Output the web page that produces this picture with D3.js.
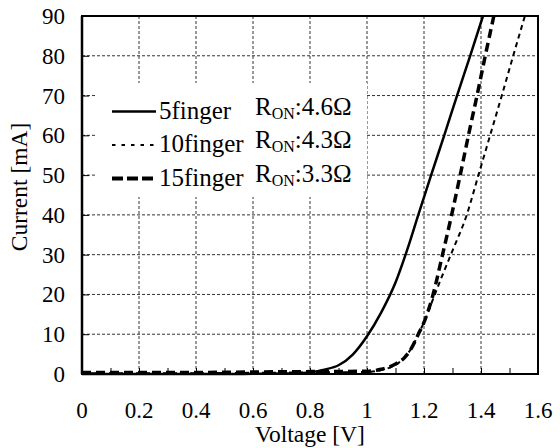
<!DOCTYPE html>
<html>
<head>
<meta charset="utf-8">
<script src="https://d3js.org/d3.v7.min.js"></script>
<style>
  body { margin: 0; background: #fff; }
  text { font-family: "Liberation Serif", "Times New Roman", serif; fill: #000; }
  .grid line { stroke: #333; stroke-width: 1; stroke-dasharray: 3,2; }
  .frame { fill: none; stroke: #000; stroke-width: 2; }
  .curve { fill: none; stroke: #000; }
</style>
</head>
<body>
<svg id="chart" width="560" height="448"></svg>
<script>
  // I-V curves: voltage [V] / current [mA]
  var v5 = [0, 0.1, 0.2, 0.3, 0.4, 0.5, 0.6, 0.7, 0.75, 0.8, 0.85, 0.9, 0.95, 1.0, 1.05, 1.1, 1.14, 1.18, 1.225, 1.271, 1.316, 1.362, 1.407];
  var i5 = [0, 0, 0, 0, 0, 0, 0.05, 0.1, 0.2, 0.4, 1.1, 2.2, 4.9, 9.5, 15.5, 23, 31, 40, 50, 60, 70, 80, 90];

  var v10 = [0, 0.2, 0.4, 0.6, 0.8, 1.0, 1.05, 1.1, 1.13, 1.16, 1.18, 1.2, 1.23, 1.26, 1.3, 1.35, 1.391, 1.432, 1.473, 1.513, 1.554];
  var i10 = [0.2, 0.2, 0.2, 0.3, 0.4, 0.5, 1.0, 2.3, 4, 7, 10, 13, 18.5, 24, 31, 40, 50, 60, 70, 80, 90];

  var v15 = [0, 0.2, 0.4, 0.6, 0.8, 1.0, 1.05, 1.1, 1.13, 1.16, 1.18, 1.2, 1.23, 1.265, 1.297, 1.327, 1.356, 1.386, 1.415, 1.445];
  var i15 = [0.4, 0.4, 0.4, 0.5, 0.6, 0.7, 1.2, 2.5, 4, 7, 10, 13, 19.5, 30, 40, 50, 60, 70, 80, 90];

  var seriesNames = ['5finger', '10finger', '15finger'];
  var ronLabels = [':4.6\u03A9', ':4.3\u03A9', ':3.3\u03A9'];
  var xTicks = [0, 0.2, 0.4, 0.6, 0.8, 1, 1.2, 1.4, 1.6];
  var yTicks = [0, 10, 20, 30, 40, 50, 60, 70, 80, 90];

  var svg = d3.select('#chart');
  // plot box (note: "top" is reserved on window, so keep these in an object)
  var m = { l: 82, r: 538, t: 16, b: 374 };

  var x = d3.scaleLinear().domain([0, 1.6]).range([m.l, m.r]);
  var y = d3.scaleLinear().domain([0, 90]).range([m.b, m.t]);

  // dashed grid
  var grid = svg.append('g').attr('class', 'grid');
  grid.selectAll('line.v')
      .data(xTicks.slice(1, -1))
    .enter().append('line')
      .attr('x1', function(d) { return x(d); })
      .attr('x2', function(d) { return x(d); })
      .attr('y1', m.t)
      .attr('y2', m.b);
  grid.selectAll('line.h')
      .data(yTicks.slice(1, -1))
    .enter().append('line')
      .attr('x1', m.l)
      .attr('x2', m.r)
      .attr('y1', function(d) { return y(d); })
      .attr('y2', function(d) { return y(d); });

  // legend box hides the grid behind it
  svg.append('rect')
    .attr('x', 97).attr('y', 83)
    .attr('width', 270).attr('height', 114)
    .attr('fill', '#fff');

  // axes with inward ticks
  svg.append('g')
    .attr('transform', 'translate(0,' + m.b + ')')
    .call(d3.axisBottom(x).tickValues(d3.range(0, 1.61, 0.1)).tickSize(-6).tickFormat(''))
    .call(function(g) { g.select('.domain').remove(); g.selectAll('line').attr('stroke', '#000'); });
  svg.append('g')
    .attr('transform', 'translate(' + m.l + ',0)')
    .call(d3.axisLeft(y).tickValues(yTicks).tickSize(-7).tickFormat(''))
    .call(function(g) { g.select('.domain').remove(); g.selectAll('line').attr('stroke', '#000'); });

  svg.selectAll('text.xt')
      .data(xTicks)
    .enter().append('text')
      .attr('x', function(d) { return x(d); })
      .attr('y', 418)
      .attr('text-anchor', 'middle')
      .style('font-size', '23px')
      .text(function(d) { return d; });
  svg.selectAll('text.yt')
      .data(yTicks)
    .enter().append('text')
      .attr('x', 65)
      .attr('y', function(d) { return y(d) + 8; })
      .attr('text-anchor', 'end')
      .style('font-size', '23px')
      .text(function(d) { return d; });

  svg.append('text')
    .attr('x', (m.l + m.r) / 2)
    .attr('y', 442)
    .attr('text-anchor', 'middle')
    .style('font-size', '23.5px')
    .text('Voltage [V]');
  svg.append('text')
    .attr('transform', 'translate(27,' + ((m.t + m.b) / 2 - 8) + ') rotate(-90)')
    .attr('text-anchor', 'middle')
    .style('font-size', '23.5px')
    .text('Current [mA]');

  // curves
  var line = d3.line()
    .x(function(d) { return x(d[0]); })
    .y(function(d) { return y(d[1]); })
    .curve(d3.curveMonotoneX);

  var styles = [
    { w: 2.5, dash: null, legendDash: null },
    { w: 2, dash: '5,4', legendDash: '3.5,6' },
    { w: 3.5, dash: '9,5', legendDash: '11,4' }
  ];
  var series = [d3.zip(v5, i5), d3.zip(v10, i10), d3.zip(v15, i15)];

  svg.selectAll('path.curve')
      .data(series)
    .enter().append('path')
      .attr('class', 'curve')
      .attr('d', line)
      .attr('stroke-width', function(d, i) { return styles[i].w; })
      .attr('stroke-dasharray', function(d, i) { return styles[i].dash; });

  // frame
  svg.append('rect')
    .attr('class', 'frame')
    .attr('x', m.l).attr('y', m.t)
    .attr('width', m.r - m.l).attr('height', m.b - m.t);
  svg.append('line')
    .attr('x1', m.l).attr('x2', m.l)
    .attr('y1', m.t).attr('y2', m.b)
    .attr('stroke', '#000').attr('stroke-width', 2.5);

  // legend
  var rowY = [111.5, 145, 178.5];
  var leg = svg.selectAll('g.leg')
      .data(seriesNames)
    .enter().append('g')
      .attr('transform', function(d, i) { return 'translate(0,' + rowY[i] + ')'; });
  leg.append('line')
    .attr('x1', 112).attr('x2', 156)
    .attr('stroke', '#000')
    .attr('stroke-width', function(d, i) { return styles[i].w + (i == 2 ? 0.5 : 0); })
    .attr('stroke-dasharray', function(d, i) { return styles[i].legendDash; });
  leg.append('text')
    .attr('x', 159).attr('y', 7)
    .style('font-size', '25px')
    .text(function(d) { return d; });
  var ron = leg.append('text')
    .attr('x', 255).attr('y', 3)
    .style('font-size', '25px');
  ron.append('tspan').text('R');
  ron.append('tspan').attr('dy', 4).style('font-size', '16px').text('ON');
  ron.append('tspan').attr('dy', -4).text(function(d, i) { return ronLabels[i]; });
</script>
</body>
</html>
